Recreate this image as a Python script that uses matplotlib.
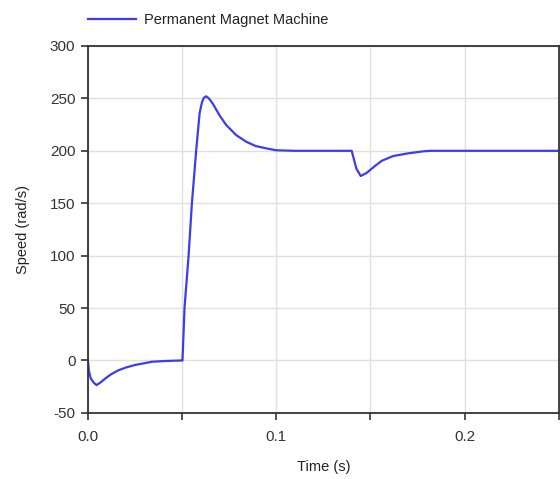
import matplotlib
matplotlib.use("Agg")
import matplotlib.pyplot as plt

plt.rcParams['font.family'] = ['Liberation Sans', 'DejaVu Sans']
plt.rcParams['axes.unicode_minus'] = False

time_s = [0.0, 0.0005, 0.0015, 0.003, 0.0046, 0.007, 0.009, 0.012, 0.016, 0.020, 0.025,
          0.030, 0.034, 0.041, 0.046, 0.0500, 0.0502, 0.0513, 0.0534, 0.0552, 0.0575,
          0.0593, 0.0605, 0.0615, 0.0628, 0.0642, 0.0663, 0.0698, 0.0734, 0.0787, 0.084,
          0.089, 0.0945, 0.100, 0.110, 0.140, 0.1412, 0.1425, 0.1448, 0.148, 0.152,
          0.156, 0.162, 0.170, 0.178, 0.182, 0.25]
speed = [0.0, -10.0, -17.0, -21.0, -23.5, -20.5, -17.5, -13.5, -9.5, -6.8, -4.3,
         -2.6, -1.2, -0.5, -0.2, 0.0, 0.0, 51.0, 99.0, 150.0, 201.0,
         236.0, 246.0, 250.5, 252.0, 250.0, 245.0, 234.0, 224.6, 215.0, 208.7,
         204.6, 202.4, 200.5, 200.0, 200.0, 192.0, 183.0, 176.0, 179.0, 185.0,
         190.5, 195.0, 197.6, 199.5, 200.0, 200.0]

x_ticks = [0.0, 0.05, 0.1, 0.15, 0.2, 0.25]
x_labels = ['0.0', '', '0.1', '', '0.2', '']
y_ticks = [-50, 0, 50, 100, 150, 200, 250, 300]

fig = plt.figure(figsize=(5.6, 4.79), dpi=100)
ax = fig.add_axes([0.157, 0.138, 0.841, 0.766])

ax.plot(time_s, speed, color='#3b3bf2', lw=1.6, label='Permanent Magnet Machine')

ax.set_xlim(0, 0.25)
ax.set_ylim(-50, 300)
ax.set_xticks(x_ticks)
ax.set_xticklabels(x_labels)
ax.set_yticks(y_ticks)
ax.grid(True, color='#e0e0e0', lw=1.0)
ax.set_axisbelow(True)
for s in ax.spines.values():
    s.set_color('#333333')
    s.set_linewidth(1.3)
ax.tick_params(direction='out', length=5, width=1.2, colors='#333333',
               labelcolor='#333333', labelsize=11, pad=4)
ax.tick_params(axis='x', pad=7)

ax.set_xlabel('Time (s)', fontsize=10.5, color='#222222', labelpad=12)
ax.set_ylabel('Speed (rad/s)', fontsize=10.5, color='#222222', labelpad=14)

leg = fig.legend(loc='upper left', bbox_to_anchor=(0.133, 1.0), frameon=False,
                 fontsize=10.5, handlelength=3.3, handletextpad=0.6)
for t in leg.get_texts():
    t.set_color('#222222')

fig.savefig('out.png', dpi=100)
